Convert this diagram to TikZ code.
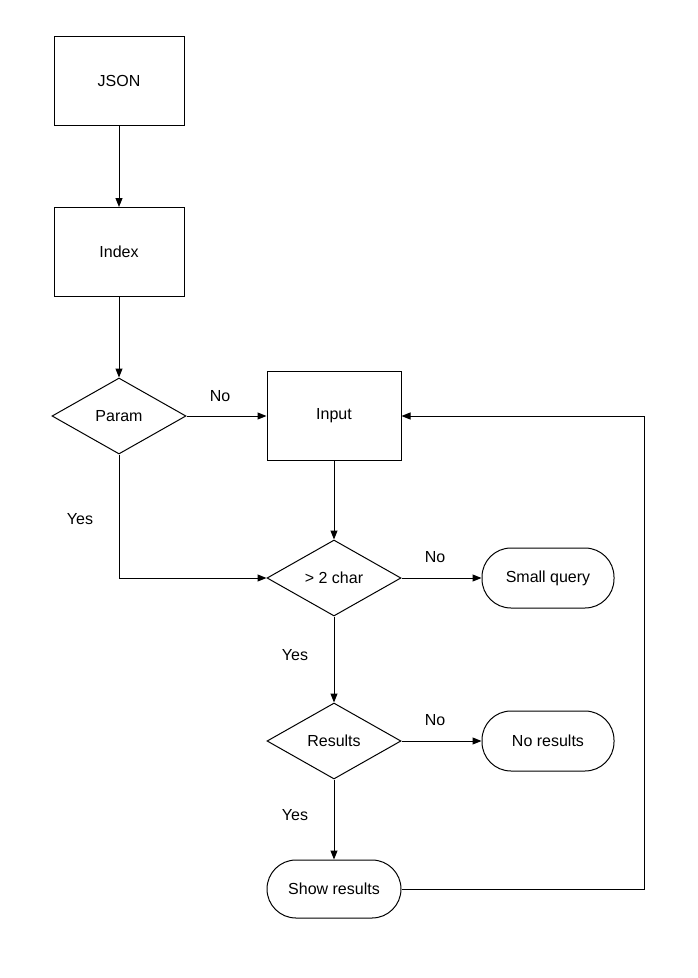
\documentclass[tikz,border=0pt]{standalone}
\usepackage{fontspec}
\setmainfont{Liberation Sans}
\usetikzlibrary{shapes.geometric,arrows.meta}
\begin{document}
\begin{tikzpicture}[x=1pt,y=-1pt,font=\fontsize{16}{19}\selectfont,line width=1pt,
  box/.style={draw,minimum width=130pt,minimum height=89pt,inner sep=0pt},
  dia/.style={draw,diamond,aspect=1.75,minimum width=134pt,minimum height=76pt,inner sep=0pt},
  term/.style={draw,rounded corners=29pt,minimum width=132pt,minimum height=60pt,inner sep=0pt},
  arr/.style={-{Triangle[length=9pt,width=7pt]}},
  lbl/.style={font=\fontsize{16}{19}\selectfont}]
\useasboundingbox (0,0) rectangle (697,978);
\node[box] (json) at (119,81) {JSON};
\node[box] (index) at (119,252) {Index};
\node[dia] (param) at (119,416) {Param};
\node[box,minimum width=134pt] (input) at (334,416) {Input};
\node[dia] (char) at (334,578) {> 2 char};
\node[term] (small) at (548,578) {Small query};
\node[dia] (res) at (334,741) {Results};
\node[term] (nores) at (548,741) {No results};
\node[term,minimum width=134pt,minimum height=58pt] (show) at (334,889) {Show results};
\coordinate (c1) at (644,889);
\coordinate (c2) at (644,416);
\draw[arr] (json) -- (index);
\draw[arr] (index) -- (param);
\draw[arr] (param) -- (input);
\draw[arr] (param.south) |- (char.west);
\draw[arr] (input) -- (char);
\draw[arr] (char) -- (small);
\draw[arr] (char) -- (res);
\draw[arr] (res) -- (nores);
\draw[arr] (res) -- (show);
\draw[arr] (show.east) -- (c1) -- (c2) -- (input.east);
\node[lbl] (l1) at (220,396) {No};
\node[lbl] (l2) at (80,519) {Yes};
\node[lbl] (l3) at (435,557) {No};
\node[lbl] (l4) at (295,655) {Yes};
\node[lbl] (l5) at (435,720) {No};
\node[lbl] (l6) at (295,815) {Yes};
\end{tikzpicture}
\end{document}
